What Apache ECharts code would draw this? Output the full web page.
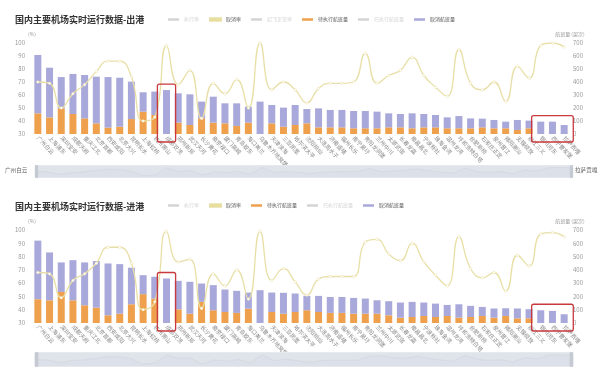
<!DOCTYPE html>
<html><head><meta charset="utf-8">
<script src="https://cdn.jsdelivr.net/npm/echarts@6/dist/echarts.min.js"></script>
<style>html,body{margin:0;padding:0;background:#fff}#c1,#c2{width:600px;height:185px}</style>
</head><body>
<div id="c1"></div><div id="c2"></div>
<script>
const categories = ['广州白云','上海浦东','深圳宝安','成都天府','重庆江北','北京首都','西安咸阳','北京大兴','昆明长水','上海虹桥','杭州萧山','成都双流','郑州新郑','武汉天河','长沙黄花','南京禄口','厦门高崎','青岛胶东','海口美兰','乌鲁木齐地窝堡','天津滨海','三亚凤凰','哈尔滨太平','沈阳桃仙','大连周水子','济南遥墙','福州长乐','南宁吴圩','贵阳龙洞堡','兰州中川','太原武宿','长春龙嘉','南昌昌北','宁波栎社','珠海金湾','温州龙湾','呼和浩特白塔','合肥新桥','石家庄正定','泉州晋江','揭阳潮汕','无锡硕放','丽江三义','银川河东','西宁曹家堡','拉萨贡嘎'];

// 出港
const depPending = [159,128,197,154,120,82,49,56,115,172,146,0,87,69,120,87,82,62,87,0,82,56,69,82,51,51,51,44,44,44,51,51,44,51,51,44,44,44,51,44,44,31,44,0,0,0];
const depCancel  = [449,382,241,308,334,359,389,377,288,149,180,338,226,236,129,200,154,174,123,249,141,147,154,110,146,134,134,133,133,128,108,103,115,103,95,84,94,76,67,64,51,77,59,95,95,69];
const depRate    = [70,69,50,61,68,78,86,86,74,40,43,98,68,79,42,69,61,72,50,100,64,70,64,54,65,69,69,70,92,69,75,79,89,75,66,59,95,69,64,70,55,82,73,98,100,97];

// 进港
const arrPending = [179,171,234,171,133,116,58,70,141,217,184,0,103,70,159,96,83,76,108,0,83,70,83,96,83,76,76,70,70,70,58,40,45,53,45,53,40,45,53,40,53,35,35,0,0,0];
const arrCancel  = [441,360,222,302,323,350,390,373,275,143,164,335,214,240,138,189,169,166,121,247,146,157,139,108,121,120,120,119,114,101,106,114,114,101,101,83,101,84,68,69,58,74,69,96,91,66];
const arrRate    = [68,67,49,62,67,75,87,87,75,40,46,99,76,78,41,67,58,70,48,99,62,71,61,51,63,65,65,65,91,93,82,77,90,76,66,58,95,71,64,68,54,81,73,97,98,95];

const rateTicks = [30,40,50,60,70,80,90,100];
const countTicks = [0,100,200,300,400,500,600,700];
const highlightGroups = [[11,11],[43,45]];

const FONT = '"Noto Sans CJK SC","Noto Sans",sans-serif';
const ORANGE = '#efa04c', PURPLE = '#a9a8da', YELLOW = '#ead884', LINE = '#e8dfa6';

function build(el, cfg) {
  const chart = echarts.init(document.getElementById(el), null, {renderer:'canvas'});
  const legendData = cfg.legend.map(n => {
    const c = {'取消率':YELLOW,'待执行航班量':ORANGE,'取消航班量':PURPLE}[n];
    return c ? {name:n, itemStyle:{color:c}} : {name:n};
  });
  const series = [
    {name:'执行率', type:'line', yAxisIndex:0, data:[]},
    {name:'取消率', type:'line', yAxisIndex:0, smooth:true, data:cfg.rate, z:5,
      symbol:'circle', symbolSize:2.6,
      itemStyle:{color:'#ffffff', borderColor:LINE, borderWidth:0.5},
      lineStyle:{color:LINE, width:1.3}},
  ];
  if (cfg.legend.includes('起飞正常率')) series.push({name:'起飞正常率', type:'line', yAxisIndex:0, data:[]});
  series.push(
    {name:'待执行航班量', type:'bar', yAxisIndex:1, stack:'f', barWidth:7, data:cfg.pending, itemStyle:{color:ORANGE}},
    {name:'已执行航班量', type:'bar', yAxisIndex:1, stack:'f', barWidth:7, data:[]},
    {name:'取消航班量', type:'bar', yAxisIndex:1, stack:'f', barWidth:7, data:cfg.cancel, itemStyle:{color:PURPLE}}
  );
  const axisCommon = {splitLine:{show:false}, axisLine:{show:false}, axisTick:{show:false},
    nameTextStyle:{fontSize:5, color:'#999'}, nameGap:6};
  chart.setOption({
    animation:false,
    textStyle:{fontFamily:FONT},
    title:{text:cfg.title, left:10, top:cfg.titleTop, textStyle:{fontSize:9, fontWeight:'bold', color:'#333', fontFamily:FONT}},
    legend:{left:163, top:cfg.legendTop, data:legendData, icon:'rect', itemWidth:11, itemHeight:2.5, itemGap:10,
      textStyle:{fontSize:5, color:'#555'}, inactiveColor:'#d4d4d4',
      selected:{'执行率':false,'起飞正常率':false,'已执行航班量':false}},
    grid:{left:32, right:30, top:cfg.gridTop, height:cfg.gridH},
    xAxis:{type:'category', data:categories, axisLine:{show:false}, axisTick:{show:false},
      axisLabel:{interval:0, rotate:-47, fontSize:5.6, color:'#8a8a8a', margin:3}},
    yAxis:[
      Object.assign({type:'value', min:rateTicks[0], max:rateTicks[rateTicks.length-1], interval:10, name:'(%)',
        axisLabel:{fontSize:6, color:'#999', margin:7}}, axisCommon),
      Object.assign({type:'value', min:countTicks[0], max:countTicks[countTicks.length-1], interval:100, name:'航班量 (架次)',
        axisLabel:{fontSize:6, color:'#999', margin:3}}, axisCommon)
    ],
    dataZoom:[{type:'slider', xAxisIndex:0, start:0, end:100, top:cfg.sliderTop, height:cfg.sliderH, left:33, right:30,
      showDetail:false, brushSelect:false, moveHandleSize:0, borderColor:'#e6e9ee', backgroundColor:'#f0f2f5',
      fillerColor:'rgba(205,212,224,0.5)',
      handleIcon:'path://M0,0 L2,0 L2,10 L0,10 Z', handleSize:'90%', handleStyle:{color:'#c4c9d2', borderColor:'#c4c9d2'},
      dataBackground:{lineStyle:{color:'#ccd1da', width:0.5}, areaStyle:{color:'#dde1e8'}},
      selectedDataBackground:{lineStyle:{color:'#ccd1da', width:0.5}, areaStyle:{color:'#dde1e8'}}}],
    series
  });
  const cx = i => chart.convertToPixel({xAxisIndex:0}, i);
  const cy = v => chart.convertToPixel({yAxisIndex:1}, v);
  const w = cx(1) - cx(0);
  const graphic = highlightGroups.map(([a,b]) => {
    let mx = 0;
    for (let i=a;i<=b;i++) mx = Math.max(mx, cfg.pending[i] + cfg.cancel[i]);
    const x0 = cx(a) - 0.78*w, x1 = cx(b) + 0.78*w;
    const y0 = cy(mx) - 6, y1 = cy(0) + 8;
    return {type:'rect', shape:{x:x0, y:y0, width:x1-x0, height:y1-y0, r:2}, z:100,
      style:{fill:'none', stroke:'#c9393d', lineWidth:1.3}};
  });
  if (cfg.sliderLabels) {
    const yMid = cfg.sliderTop + cfg.sliderH/2;
    graphic.push({type:'text', left:5, top:yMid-4, z:100, style:{text:categories[0], fontSize:5.6, fill:'#666', fontFamily:FONT}});
    graphic.push({type:'text', left:575, top:yMid-4, z:100, style:{text:categories[categories.length-1], fontSize:5.6, fill:'#666', fontFamily:FONT}});
  }
  chart.setOption({graphic});
  return chart;
}

build('c1', {title:'国内主要机场实时运行数据-出港', titleTop:10, legendTop:12, gridTop:43, gridH:91,
  sliderTop:165, sliderH:13, sliderLabels:true,
  legend:['执行率','取消率','起飞正常率','待执行航班量','已执行航班量','取消航班量'],
  pending:depPending, cancel:depCancel, rate:depRate});
build('c2', {title:'国内主要机场实时运行数据-进港', titleTop:12, legendTop:13, gridTop:45, gridH:93,
  sliderTop:167, sliderH:15, sliderLabels:false,
  legend:['执行率','取消率','待执行航班量','已执行航班量','取消航班量'],
  pending:arrPending, cancel:arrCancel, rate:arrRate});
</script>
</body></html>
